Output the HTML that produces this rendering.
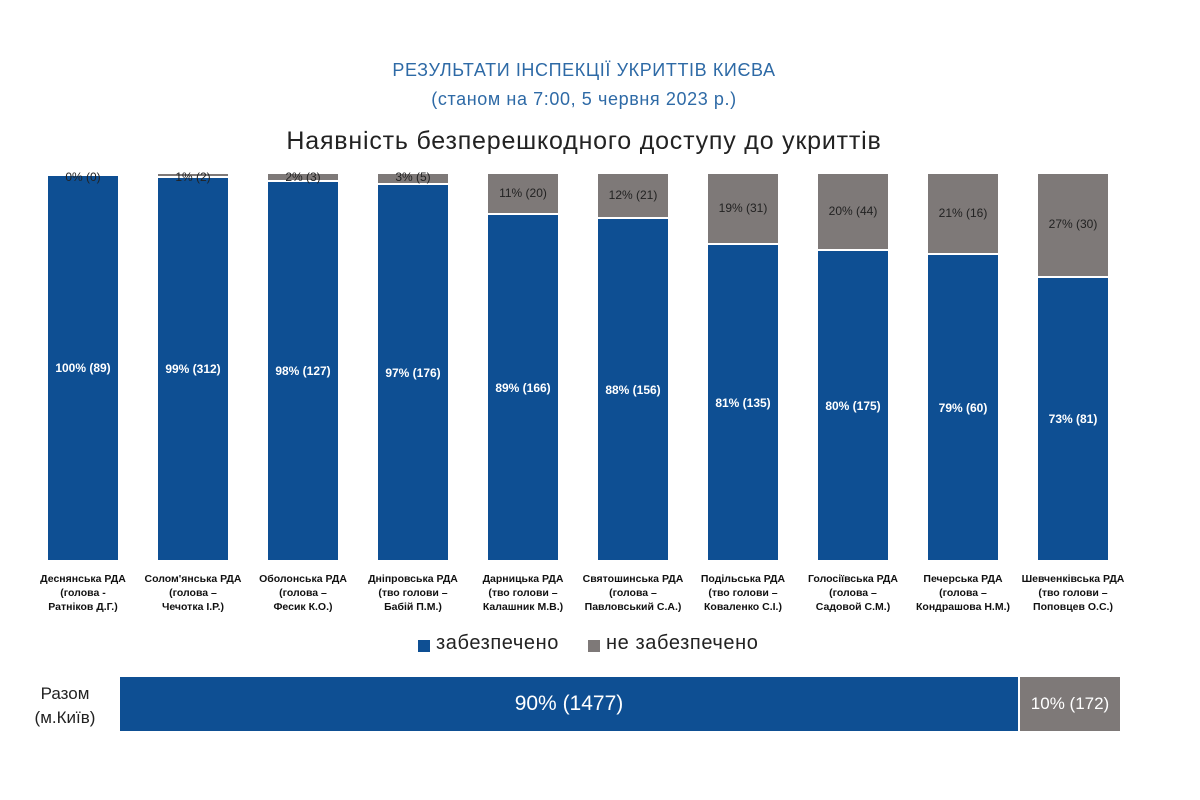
<!DOCTYPE html>
<html><head><meta charset="utf-8"><style>
body{margin:0;width:1200px;height:800px;background:#fff;font-family:"Liberation Sans","DejaVu Sans",sans-serif;position:relative;overflow:hidden}
.a{position:absolute}
.t{color:#2e6aa6;font-size:18px;text-align:center;width:1168px;left:0;letter-spacing:0.6px}
.g{background:#7e7978}
.b{background:#0e4f93}
.bl{color:#fff;font-size:12px;font-weight:bold;text-align:center;width:100px}
.gl{color:#222;font-size:12px;text-align:center;width:100px}
.xl{font-size:10.5px;font-weight:bold;text-align:center;width:110px;line-height:14px;color:#111}
</style></head><body>
<div class="a t" style="top:60px">РЕЗУЛЬТАТИ ІНСПЕКЦІЇ УКРИТТІВ КИЄВА</div>
<div class="a t" style="top:89px">(станом на 7:00, 5 червня 2023 р.)</div>
<div class="a" style="top:127px;left:0;width:1168px;text-align:center;font-size:25px;letter-spacing:0.8px;color:#222">Наявність безперешкодного доступу до укриттів</div>
<div id="c"></div>
<div class="a" style="left:418px;top:640px;width:12px;height:12px;background:#0e4f93"></div>
<div class="a" style="left:436px;top:632px;font-size:20px;letter-spacing:0.6px;color:#222">забезпечено</div>
<div class="a" style="left:588px;top:640px;width:12px;height:12px;background:#7e7978"></div>
<div class="a" style="left:606px;top:632px;font-size:20px;letter-spacing:0.6px;color:#222">не забезпечено</div>
<div class="a" style="left:20px;top:682px;width:90px;text-align:center;font-size:17px;line-height:24px;color:#222">Разом<br>(м.Київ)</div>
<div class="a b" style="left:120px;top:677px;width:898px;height:54px;color:#fff;font-size:21px;text-align:center;line-height:54px">90% (1477)</div>
<div class="a g" style="left:1020px;top:677px;width:100px;height:54px;color:#fff;font-size:17px;text-align:center;line-height:54px">10% (172)</div>
<script>
var d=[[176,"100% (89)","0% (0)","Деснянська РДА<br>(голова -<br>Ратніков Д.Г.)"],
[178,"99% (312)","1% (2)","Солом'янська РДА<br>(голова –<br>Чечотка І.Р.)"],
[182,"98% (127)","2% (3)","Оболонська РДА<br>(голова –<br>Фесик К.О.)"],
[185,"97% (176)","3% (5)","Дніпровська РДА<br>(тво голови –<br>Бабій П.М.)"],
[215,"89% (166)","11% (20)","Дарницька РДА<br>(тво голови –<br>Калашник М.В.)"],
[219,"88% (156)","12% (21)","Святошинська РДА<br>(голова –<br>Павловський С.А.)"],
[245,"81% (135)","19% (31)","Подільська РДА<br>(тво голови –<br>Коваленко С.І.)"],
[251,"80% (175)","20% (44)","Голосіївська РДА<br>(голова –<br>Садовой С.М.)"],
[255,"79% (60)","21% (16)","Печерська РДА<br>(голова –<br>Кондрашова Н.М.)"],
[278,"73% (81)","27% (30)","Шевченківська РДА<br>(тво голови –<br>Поповцев О.С.)"]];
var h="";
d.forEach(function(r,i){var x=48+110*i,y=r[0];
if(y-2>174)h+='<div class="a g" style="left:'+x+'px;top:174px;width:70px;height:'+(y-176)+'px"></div>';
h+='<div class="a b" style="left:'+x+'px;top:'+y+'px;width:70px;height:'+(560-y)+'px"></div>';
h+='<div class="a bl" style="left:'+(x-15)+'px;top:'+((y+560)/2-7)+'px">'+r[1]+'</div>';
var gy=(y-174>20)?(174+y)/2-9:170;
h+='<div class="a gl" style="left:'+(x-15)+'px;top:'+gy+'px">'+r[2]+'</div>';
h+='<div class="a xl" style="left:'+(x-20)+'px;top:572px">'+r[3]+'</div>';});
document.getElementById("c").innerHTML=h;
</script>
</body></html>
